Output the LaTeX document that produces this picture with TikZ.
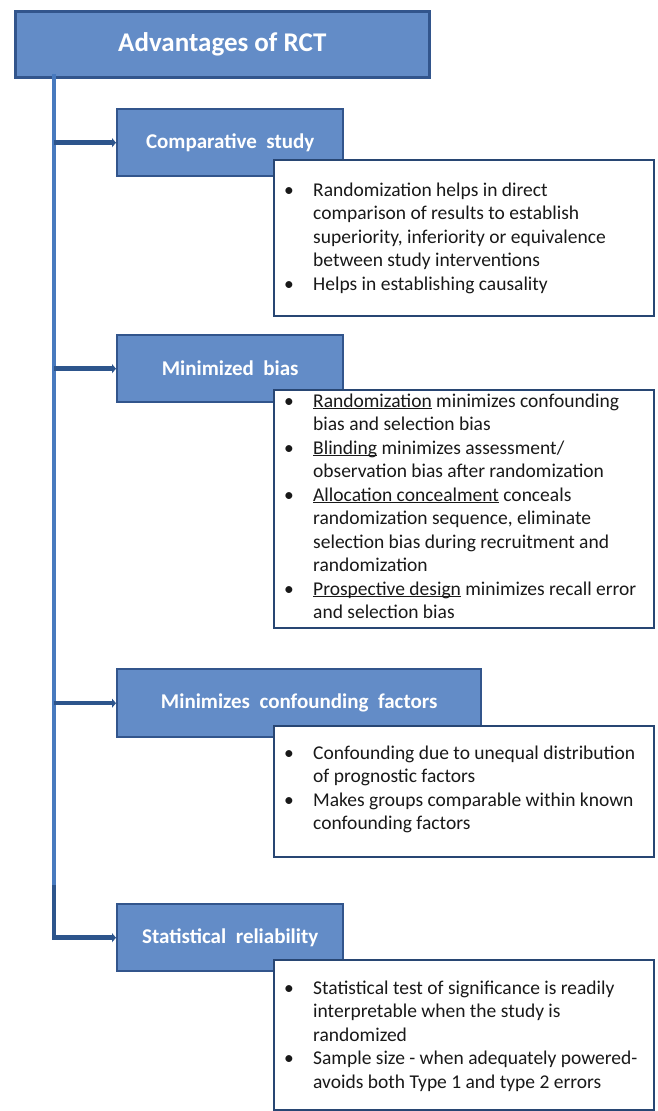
\documentclass[tikz,border=0pt]{standalone}
\usepackage{fontspec}
\setmainfont{Carlito}
\usetikzlibrary{arrows.meta}
\definecolor{boxfill}{RGB}{99,140,199}
\definecolor{boxdraw}{RGB}{50,85,140}
\definecolor{trunkcol}{RGB}{72,122,190}
\definecolor{conncol}{RGB}{45,85,140}
\definecolor{textdraw}{RGB}{40,70,115}
\newcommand\bul{\makebox[30pt][l]{\hspace{1pt}•}}
\newcommand\undl[1]{\setbox0\hbox{#1}\rlap{\rule[-2.4pt]{\wd0}{1.1pt}}#1}
\tikzset{
  titlebox/.style={draw=boxdraw, line width=2.6pt, fill=boxfill, text=white,
    font=\fontsize{27}{32}\selectfont\bfseries, inner sep=0pt,
    minimum width=414pt, minimum height=66pt, anchor=north west},
  bluebox/.style={draw=boxdraw, line width=2.4pt, fill=boxfill, text=white,
    font=\fontsize{21}{25}\selectfont\bfseries, inner sep=0pt,
    minimum height=67pt, anchor=north west},
  textbox/.style={draw=textdraw, line width=2.2pt, fill=white, inner sep=0pt,
    minimum width=380pt, anchor=north west},
  bodytext/.style={anchor=base west, inner sep=0pt, text=black!90,
    font=\fontsize{19.5}{23.5}\selectfont},
  trunkline/.style={draw=trunkcol, line width=4.5pt},
  conn/.style={draw=conncol, line width=4.5pt,
    -{Triangle[length=4pt,width=9pt]}},
}
\begin{document}
\begin{tikzpicture}[x=1pt,y=-1pt]
\useasboundingbox (0,0) rectangle (657,1111);

% title
\node[titlebox] (T) at (14,10) {Advantages of RCT};

% category boxes
\node[bluebox, minimum width=226pt] (A) at (116,108) {Comparative\ \ study};
\node[bluebox, minimum width=226pt] (B) at (116,334) {Minimized\ \ bias};
\node[bluebox, minimum width=364pt, minimum height=68pt] (C) at (116,668) {Minimizes\ \ confounding\ \ factors};
\node[bluebox, minimum width=226pt] (D) at (116,903) {Statistical\ \ reliability};

% trunk and connectors
\coordinate (trunktop) at (54,74);
\coordinate (elb) at (54,885);
\draw[trunkline] (trunktop) -- (elb);
\draw[conn] (trunktop |- A.west) -- (A.west);
\draw[conn] (trunktop |- B.west) -- (B.west);
\draw[conn] (trunktop |- C.west) -- (C.west);
\draw[conn] (elb) |- (D.west);

% text boxes
\node[textbox, minimum height=156pt] (TA) at (273,159) {};
\node[bodytext] (TAt) at (283,196) {\begin{tabular}[t]{@{}l@{}l@{}}
\bul & Randomization helps in direct\\
 & comparison of results to establish\\
 & superiority, inferiority or equivalence\\
 & between study interventions\\
\bul & Helps in establishing causality
\end{tabular}};

\node[textbox, minimum height=238pt] (TB) at (273,389) {};
\node[bodytext] (TBt) at (283,407) {\begin{tabular}[t]{@{}l@{}l@{}}
\bul & \undl{Randomization} minimizes confounding\\
 & bias and selection bias\\
\bul & \undl{Blinding} minimizes assessment/\\
 & observation bias after randomization\\
\bul & \undl{Allocation concealment} conceals\\
 & randomization sequence, eliminate\\
 & selection bias during recruitment and\\
 & randomization\\
\bul & \undl{Prospective design} minimizes recall error\\
 & and selection bias
\end{tabular}};

\node[textbox, minimum height=131pt] (TC) at (273,725) {};
\node[bodytext] (TCt) at (283,759) {\begin{tabular}[t]{@{}l@{}l@{}}
\bul & Confounding due to unequal distribution\\
 & of prognostic factors\\
\bul & Makes groups comparable within known\\
 & confounding factors
\end{tabular}};

\node[textbox, minimum height=150pt] (TD) at (273,959) {};
\node[bodytext] (TDt) at (283,994) {\begin{tabular}[t]{@{}l@{}l@{}}
\bul & Statistical test of significance is readily\\
 & interpretable when the study is\\
 & randomized\\
\bul & Sample size - when adequately powered-\\
 & avoids both Type 1 and type 2 errors
\end{tabular}};
\end{tikzpicture}
\end{document}
